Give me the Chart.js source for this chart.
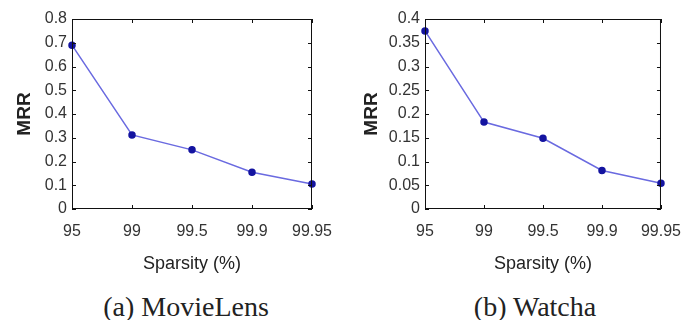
<!DOCTYPE html>
<html>
<head>
<meta charset="utf-8">
<script src="https://cdn.jsdelivr.net/npm/chart.js@4"></script>
<style>
  body{ margin:0; background:#fff; }
  .wrap{ position:relative; width:694px; height:320px; }
  .panel{ position:absolute; top:0; width:347px; height:320px; }
  .cap{ position:absolute; top:291px; line-height:30px; font:28px "Liberation Serif","Times New Roman",serif; color:#222; transform:translateX(-50%); white-space:nowrap; }
</style>
</head>
<body>
<div class="wrap">
  <div class="panel" style="left:0"><canvas id="c1" width="347" height="285"></canvas><div class="cap" style="left:186px">(a) MovieLens</div></div>
  <div class="panel" style="left:347px"><canvas id="c2" width="347" height="285"></canvas><div class="cap" style="left:188px">(b) Watcha</div></div>
</div>
<script>
// sparsity levels on the x axis (evenly spaced categories)
const SPARSITY = ["95", "99", "99.5", "99.9", "99.95"];
const MRR_MOVIELENS = [0.69, 0.312, 0.249, 0.155, 0.105];
const MRR_WATCHA = [0.375, 0.183, 0.149, 0.081, 0.054];

// matlab-ish box with small inward ticks on all four sides
const boxTicks = {
  id: "boxTicks",
  afterDraw(chart){
    const {ctx, chartArea:a, scales} = chart;
    const len = 4;
    ctx.save();
    ctx.strokeStyle = "#111"; ctx.lineWidth = 1;
    ctx.strokeRect(a.left+0.5, a.top+0.5, a.right-a.left-1, a.bottom-a.top-1);
    ctx.beginPath();
    scales.x.ticks.forEach((t,i)=>{
      const x = Math.round(scales.x.getPixelForTick(i))+0.5;
      ctx.moveTo(x, a.bottom); ctx.lineTo(x, a.bottom-len);
      ctx.moveTo(x, a.top); ctx.lineTo(x, a.top+len);
    });
    scales.y.ticks.forEach((t,i)=>{
      const y = Math.round(scales.y.getPixelForTick(i))+0.5;
      ctx.moveTo(a.left, y); ctx.lineTo(a.left+len, y);
      ctx.moveTo(a.right, y); ctx.lineTo(a.right-len, y);
    });
    ctx.stroke();
    ctx.restore();
  }
};

const SANS = "Liberation Sans, Arial, sans-serif";

function makeChart(id, values, yMax, yStep, yWidth, padRight){
  return new Chart(document.getElementById(id), {
    type: "line",
    data: { labels: SPARSITY, datasets: [{
      data: values,
      borderColor: "#6a6ae0", borderWidth: 1.5,
      pointBackgroundColor: "#1414a0", pointBorderColor: "#1414a0",
      pointRadius: 3, tension: 0, fill: false
    }]},
    options: {
      responsive: false, animation: false,
      layout: { padding: { top: 19, right: padRight, bottom: 0, left: 0 } },
      plugins: { legend: { display: false }, tooltip: { enabled: false } },
      scales: {
        x: {
          type: "category", offset: false,
          grid: { display: false, drawTicks: false },
          border: { display: false },
          ticks: { autoSkip: false, maxRotation: 0, padding: 13, color: "#333", font: { family: SANS, size: 16 } },
          title: { display: true, text: "Sparsity (%)", color: "#222", padding: { top: 4, bottom: 10 },
                   font: { family: SANS, size: 18 } },
          afterFit: s => { s.height = 76; }
        },
        y: {
          min: 0, max: yMax,
          grid: { display: false, drawTicks: false },
          border: { display: false },
          ticks: { stepSize: yStep, padding: 5, color: "#333", font: { family: SANS, size: 16 },
                   callback: v => String(Number(v.toFixed(2))) },
          title: { display: true, text: "MRR", color: "#222", padding: { top: 13, bottom: 0 },
                   font: { family: SANS, size: 19, weight: "bold" } },
          afterFit: s => { s.width = yWidth; }
        }
      }
    },
    plugins: [boxTicks]
  });
}

makeChart("c1", MRR_MOVIELENS, 0.8, 0.1, 72, 35);
makeChart("c2", MRR_WATCHA, 0.4, 0.05, 78, 32);
</script>
</body>
</html>
